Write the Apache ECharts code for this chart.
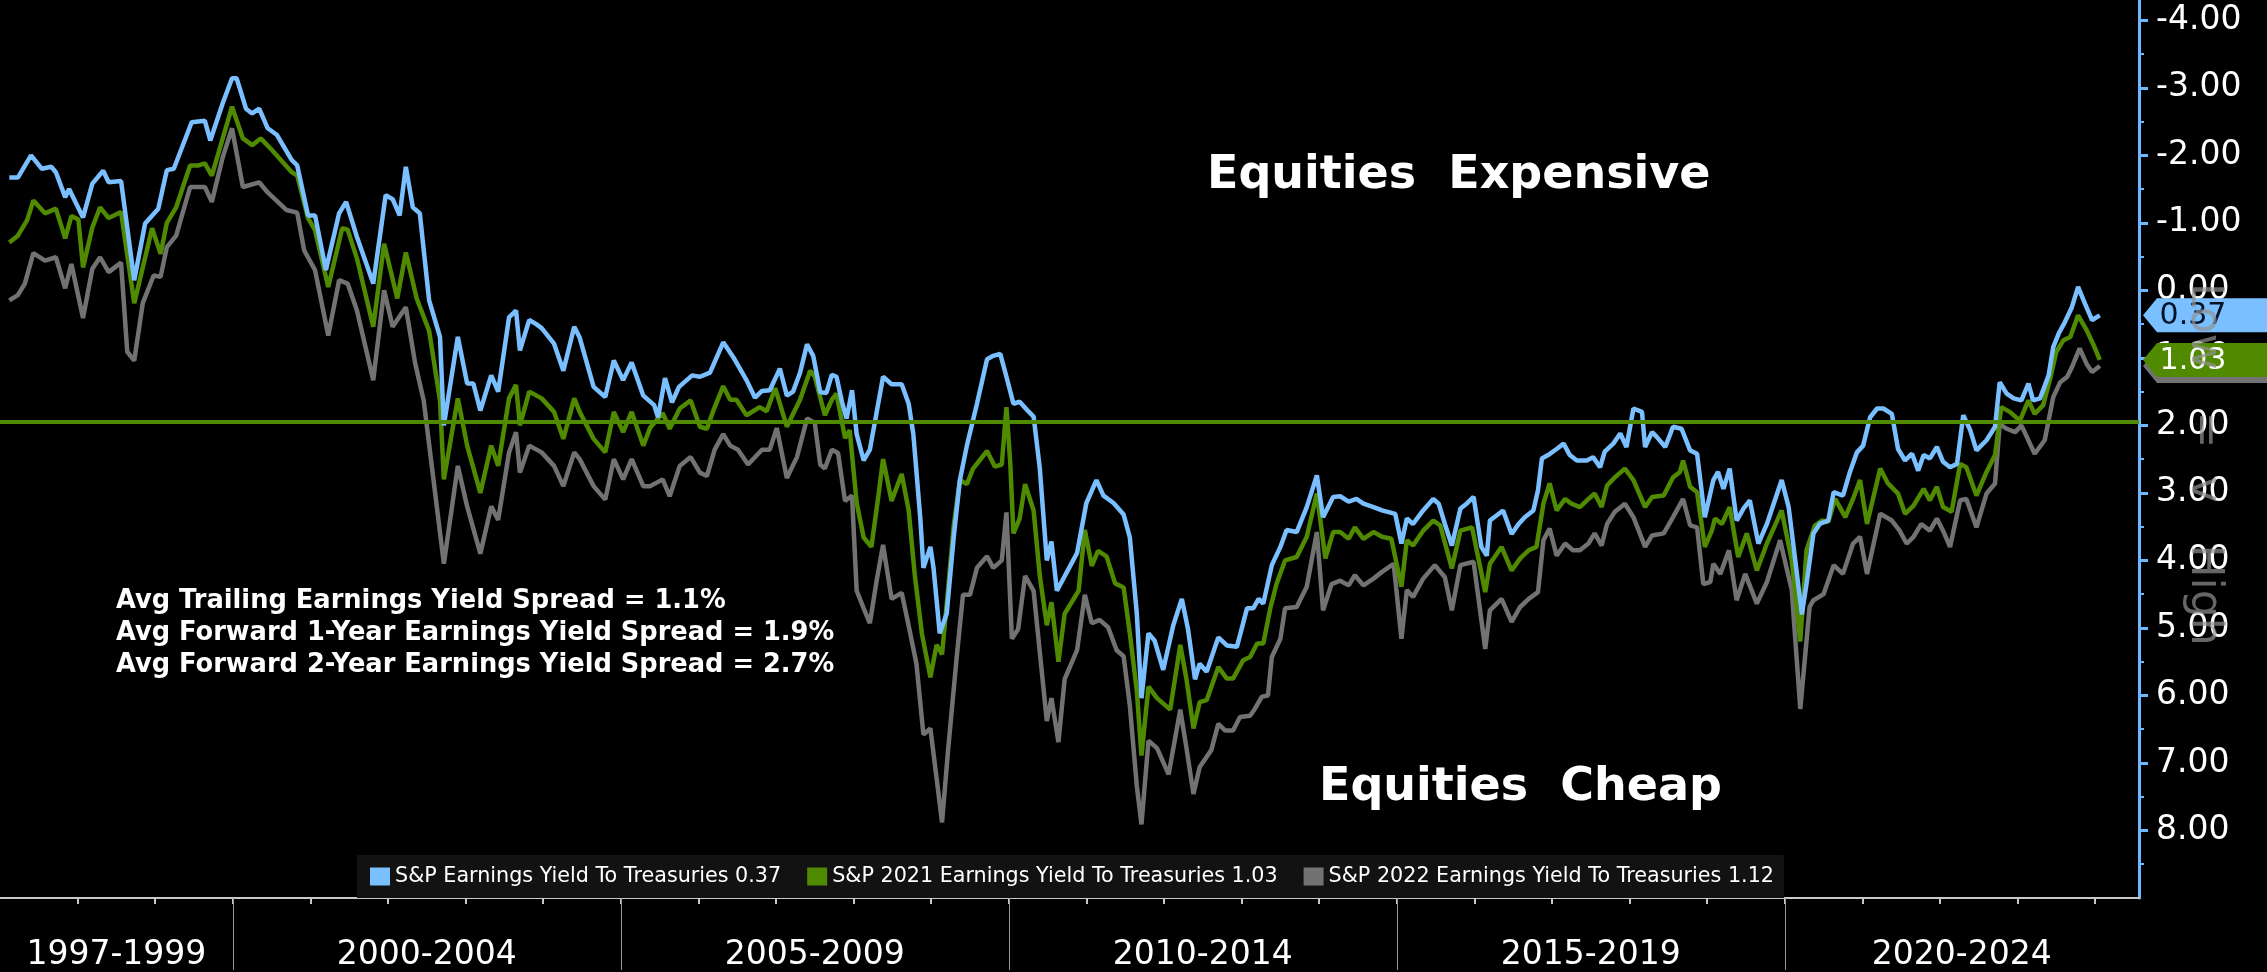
<!DOCTYPE html>
<html>
<head>
<meta charset="utf-8">
<script src="https://cdn.jsdelivr.net/npm/echarts@6/dist/echarts.min.js"></script>
<style>
  html, body { margin: 0; padding: 0; background: #000; }
  #chart { width: 2267px; height: 972px; }
</style>
</head>
<body>
<div id="chart"></div>
<script>
// x = fractional year, y = earnings yield minus treasury yield (axis drawn inverted)
const trailingYield = [
  [1997.12,-1.67],[1997.23,-1.67],[1997.40,-2.0],[1997.54,-1.8],[1997.66,-1.83],[1997.72,-1.75],[1997.84,-1.38],[1997.89,-1.5],
  [1998.07,-1.08],[1998.19,-1.58],[1998.33,-1.77],[1998.40,-1.6],[1998.56,-1.62],[1998.73,-0.15],[1998.87,-0.99],[1999.04,-1.21],
  [1999.15,-1.78],[1999.24,-1.8],[1999.47,-2.49],[1999.64,-2.51],[1999.71,-2.22],[1999.87,-2.77],[1999.99,-3.14],[2000.05,-3.14],
  [2000.17,-2.69],[2000.25,-2.62],[2000.34,-2.69],[2000.45,-2.4],[2000.57,-2.3],[2000.76,-1.93],[2000.83,-1.85],[2000.97,-1.11],
  [2001.06,-1.11],[2001.20,-0.3],[2001.37,-1.14],[2001.46,-1.31],[2001.60,-0.79],[2001.81,-0.1],[2001.97,-1.41],[2002.06,-1.35],
  [2002.15,-1.11],[2002.23,-1.83],[2002.32,-1.23],[2002.41,-1.14],[2002.53,0.15],[2002.67,0.69],[2002.72,2.0],[2002.90,0.69],
  [2003.02,1.38],[2003.10,1.38],[2003.19,1.78],[2003.33,1.26],[2003.42,1.5],[2003.56,0.4],[2003.65,0.3],[2003.70,0.89],
  [2003.82,0.44],[2003.91,0.5],[2003.98,0.56],[2004.14,0.79],[2004.26,1.19],[2004.40,0.54],[2004.47,0.7],[2004.65,1.43],
  [2004.80,1.58],[2004.91,1.04],[2005.03,1.33],[2005.14,1.07],[2005.29,1.56],[2005.43,1.7],[2005.48,1.88],[2005.57,1.3],
  [2005.66,1.66],[2005.75,1.43],[2005.92,1.26],[2006.02,1.28],[2006.15,1.22],[2006.32,0.77],[2006.45,0.99],[2006.62,1.33],
  [2006.73,1.59],[2006.82,1.49],[2006.92,1.48],[2007.05,1.16],[2007.14,1.56],[2007.22,1.5],[2007.31,1.22],[2007.40,0.8],
  [2007.48,0.97],[2007.57,1.51],[2007.65,1.52],[2007.72,1.25],[2007.78,1.28],[2007.85,1.65],[2007.91,1.9],[2007.98,1.48],
  [2008.04,2.13],[2008.13,2.52],[2008.21,2.36],[2008.30,1.79],[2008.38,1.28],[2008.49,1.39],[2008.62,1.39],[2008.71,1.68],
  [2008.77,2.13],[2008.86,3.38],[2008.90,4.11],[2008.99,3.8],[2009.03,4.11],[2009.11,5.08],[2009.20,4.79],[2009.29,3.66],
  [2009.37,2.81],[2009.46,2.3],[2009.59,1.68],[2009.72,1.02],[2009.80,0.97],[2009.89,0.94],[2009.97,1.28],[2010.06,1.68],
  [2010.14,1.65],[2010.25,1.79],[2010.32,1.87],[2010.40,2.64],[2010.49,4.0],[2010.55,3.72],[2010.62,4.45],[2010.75,4.17],
  [2010.88,3.89],[2011.00,3.15],[2011.13,2.81],[2011.22,3.04],[2011.35,3.15],[2011.48,3.32],[2011.56,3.66],[2011.65,4.79],
  [2011.71,6.04],[2011.80,5.08],[2011.88,5.19],[2011.99,5.62],[2012.12,4.96],[2012.23,4.57],[2012.31,5.02],[2012.40,5.76],
  [2012.46,5.53],[2012.55,5.65],[2012.70,5.14],[2012.81,5.26],[2012.94,5.28],[2013.07,4.71],[2013.15,4.71],[2013.22,4.57],
  [2013.28,4.64],[2013.39,4.07],[2013.50,3.8],[2013.58,3.55],[2013.71,3.58],[2013.84,3.21],[2013.97,2.74],[2014.05,3.36],
  [2014.18,3.06],[2014.27,3.05],[2014.38,3.13],[2014.48,3.09],[2014.57,3.16],[2014.70,3.21],[2014.81,3.26],[2014.98,3.31],
  [2015.06,3.75],[2015.13,3.38],[2015.21,3.46],[2015.34,3.26],[2015.47,3.09],[2015.54,3.16],[2015.62,3.46],[2015.71,3.78],
  [2015.82,3.23],[2015.90,3.16],[2015.99,3.06],[2016.09,3.8],[2016.16,3.93],[2016.20,3.41],[2016.29,3.33],[2016.37,3.26],
  [2016.48,3.61],[2016.57,3.46],[2016.65,3.36],[2016.76,3.26],[2016.82,2.96],[2016.87,2.49],[2016.95,2.44],[2017.06,2.35],
  [2017.15,2.27],[2017.23,2.44],[2017.32,2.52],[2017.45,2.52],[2017.53,2.47],[2017.62,2.62],[2017.68,2.39],[2017.79,2.27],
  [2017.88,2.12],[2017.96,2.32],[2018.05,1.75],[2018.16,1.8],[2018.20,2.32],[2018.29,2.1],[2018.35,2.17],[2018.46,2.32],
  [2018.56,2.02],[2018.67,2.05],[2018.78,2.37],[2018.87,2.42],[2018.97,3.36],[2019.08,2.81],[2019.14,2.69],[2019.21,2.94],
  [2019.29,2.64],[2019.38,3.41],[2019.47,3.23],[2019.55,3.11],[2019.66,3.75],[2019.77,3.46],[2019.96,2.81],[2020.05,3.21],
  [2020.13,3.95],[2020.22,4.8],[2020.28,4.35],[2020.37,3.6],[2020.45,3.46],[2020.56,3.41],[2020.63,2.99],[2020.75,3.04],
  [2020.84,2.69],[2020.93,2.4],[2021.01,2.3],[2021.10,1.88],[2021.19,1.75],[2021.27,1.75],[2021.38,1.83],[2021.46,2.35],
  [2021.55,2.52],[2021.64,2.42],[2021.72,2.67],[2021.79,2.44],[2021.87,2.49],[2021.96,2.32],[2022.04,2.54],[2022.13,2.62],
  [2022.22,2.57],[2022.30,1.85],[2022.39,2.07],[2022.47,2.37],[2022.60,2.22],[2022.71,2.02],[2022.77,1.36],[2022.86,1.53],
  [2022.95,1.6],[2023.05,1.63],[2023.14,1.38],[2023.20,1.63],[2023.29,1.6],[2023.40,1.26],[2023.46,0.84],[2023.53,0.64],
  [2023.61,0.47],[2023.70,0.25],[2023.78,-0.05],[2023.87,0.2],[2023.96,0.44],[2024.06,0.37]
];

const fwd1Yield = [
  [1997.12,-0.71],[1997.23,-0.81],[1997.35,-1.04],[1997.43,-1.33],[1997.58,-1.14],[1997.72,-1.21],[1997.84,-0.77],[1997.92,-1.1],
  [1998.01,-1.05],[1998.07,-0.34],[1998.19,-0.93],[1998.29,-1.23],[1998.40,-1.07],[1998.56,-1.16],[1998.73,0.19],[1998.84,-0.34],
  [1998.96,-0.92],[1999.07,-0.54],[1999.15,-1.0],[1999.27,-1.23],[1999.45,-1.85],[1999.56,-1.85],[1999.64,-1.88],[1999.73,-1.7],
  [1999.87,-2.25],[1999.99,-2.72],[2000.13,-2.25],[2000.25,-2.15],[2000.36,-2.25],[2000.51,-2.07],[2000.76,-1.75],[2000.83,-1.7],
  [2000.97,-1.07],[2001.06,-0.89],[2001.23,-0.05],[2001.41,-0.92],[2001.48,-0.9],[2001.60,-0.47],[2001.81,0.54],[2001.95,-0.69],
  [2002.12,0.12],[2002.23,-0.56],[2002.37,0.12],[2002.53,0.6],[2002.67,1.63],[2002.72,2.8],[2002.90,1.6],[2003.02,2.3],
  [2003.19,3.0],[2003.33,2.3],[2003.42,2.6],[2003.56,1.6],[2003.65,1.4],[2003.70,2.0],[2003.82,1.5],[2003.98,1.6],
  [2004.14,1.8],[2004.26,2.2],[2004.40,1.6],[2004.47,1.8],[2004.65,2.2],[2004.80,2.4],[2004.91,1.8],[2005.03,2.1],
  [2005.14,1.8],[2005.29,2.3],[2005.38,2.03],[2005.54,1.82],[2005.63,2.05],[2005.76,1.75],[2005.90,1.63],[2006.02,2.02],
  [2006.11,2.05],[2006.19,1.79],[2006.32,1.42],[2006.41,1.62],[2006.49,1.62],[2006.62,1.85],[2006.79,1.73],[2006.88,1.79],
  [2006.99,1.45],[2007.14,2.02],[2007.31,1.62],[2007.44,1.19],[2007.50,1.28],[2007.63,1.85],[2007.72,1.62],[2007.78,1.53],
  [2007.89,2.19],[2007.95,2.07],[2008.04,3.15],[2008.13,3.66],[2008.23,3.8],[2008.32,3.04],[2008.38,2.5],[2008.49,3.12],
  [2008.62,2.72],[2008.71,3.26],[2008.79,4.23],[2008.88,5.08],[2008.99,5.73],[2009.07,5.25],[2009.14,5.39],[2009.22,4.4],
  [2009.29,3.49],[2009.37,2.81],[2009.46,2.87],[2009.54,2.64],[2009.72,2.38],[2009.82,2.61],[2009.91,2.58],[2009.97,1.73],
  [2010.02,2.58],[2010.06,3.6],[2010.14,3.38],[2010.21,2.87],[2010.32,3.26],[2010.40,4.23],[2010.49,4.96],[2010.55,4.62],
  [2010.64,5.5],[2010.72,4.79],[2010.90,4.45],[2010.98,3.55],[2011.07,4.08],[2011.15,3.86],[2011.26,3.94],[2011.37,4.34],
  [2011.48,4.4],[2011.56,5.08],[2011.65,5.93],[2011.71,6.89],[2011.80,5.87],[2011.91,6.04],[2012.08,6.21],[2012.21,5.25],
  [2012.29,5.76],[2012.38,6.49],[2012.46,6.1],[2012.55,6.07],[2012.70,5.58],[2012.81,5.75],[2012.89,5.75],[2013.02,5.48],
  [2013.11,5.43],[2013.20,5.23],[2013.28,5.23],[2013.37,4.71],[2013.45,4.35],[2013.56,4.0],[2013.71,3.95],[2013.84,3.65],
  [2013.97,3.01],[2014.08,3.97],[2014.18,3.58],[2014.27,3.58],[2014.38,3.68],[2014.46,3.51],[2014.57,3.68],[2014.70,3.58],
  [2014.81,3.65],[2014.93,3.68],[2015.06,4.39],[2015.13,3.7],[2015.21,3.78],[2015.34,3.56],[2015.47,3.41],[2015.56,3.48],
  [2015.71,4.12],[2015.82,3.56],[2015.97,3.51],[2016.14,4.47],[2016.20,4.05],[2016.35,3.8],[2016.48,4.15],[2016.59,3.97],
  [2016.70,3.85],[2016.80,3.8],[2016.89,3.16],[2016.97,2.86],[2017.06,3.26],[2017.17,3.09],[2017.25,3.16],[2017.36,3.21],
  [2017.47,3.09],[2017.55,3.01],[2017.64,3.21],[2017.71,2.89],[2017.81,2.77],[2017.94,2.64],[2018.05,2.81],[2018.20,3.21],
  [2018.29,3.06],[2018.44,3.04],[2018.56,2.77],[2018.65,2.69],[2018.69,2.52],[2018.78,2.91],[2018.87,2.99],[2018.97,3.8],
  [2019.06,3.56],[2019.10,3.38],[2019.19,3.46],[2019.29,3.21],[2019.40,3.95],[2019.51,3.6],[2019.64,4.15],[2019.77,3.75],
  [2019.96,3.26],[2020.09,4.0],[2020.20,5.2],[2020.28,3.85],[2020.39,3.48],[2020.48,3.41],[2020.56,3.43],[2020.65,3.09],
  [2020.78,3.36],[2020.88,3.09],[2020.97,2.81],[2021.06,3.46],[2021.23,2.64],[2021.33,2.86],[2021.46,3.01],[2021.55,3.31],
  [2021.66,3.19],[2021.79,2.94],[2021.87,3.11],[2021.96,2.91],[2022.04,3.21],[2022.15,3.28],[2022.26,2.57],[2022.34,2.62],
  [2022.47,3.04],[2022.60,2.69],[2022.71,2.44],[2022.79,1.73],[2022.90,1.8],[2023.03,1.93],[2023.14,1.63],[2023.22,1.83],
  [2023.33,1.7],[2023.42,1.31],[2023.50,0.91],[2023.59,0.74],[2023.68,0.69],[2023.78,0.37],[2023.89,0.59],[2023.98,0.81],
  [2024.06,1.03]
];

const fwd2Yield = [
  [1997.12,0.15],[1997.23,0.07],[1997.32,-0.1],[1997.43,-0.55],[1997.58,-0.44],[1997.72,-0.49],[1997.84,-0.03],[1997.92,-0.39],
  [1998.07,0.41],[1998.19,-0.32],[1998.29,-0.49],[1998.40,-0.27],[1998.56,-0.41],[1998.64,0.91],[1998.73,1.04],[1998.84,0.19],
  [1998.98,-0.22],[1999.07,-0.2],[1999.15,-0.64],[1999.27,-0.81],[1999.45,-1.53],[1999.64,-1.53],[1999.73,-1.31],[1999.87,-1.97],
  [1999.99,-2.4],[2000.13,-1.53],[2000.34,-1.6],[2000.45,-1.45],[2000.69,-1.19],[2000.83,-1.15],[2000.92,-0.59],[2001.06,-0.3],
  [2001.23,0.67],[2001.37,-0.15],[2001.48,-0.1],[2001.60,0.3],[2001.81,1.33],[2001.95,0.0],[2002.06,0.54],[2002.23,0.25],
  [2002.35,1.08],[2002.46,1.63],[2002.72,4.05],[2002.90,2.6],[2003.02,3.2],[2003.19,3.9],[2003.33,3.2],[2003.42,3.4],
  [2003.56,2.4],[2003.65,2.1],[2003.70,2.7],[2003.82,2.3],[2003.98,2.4],[2004.14,2.6],[2004.26,2.9],[2004.40,2.4],
  [2004.47,2.5],[2004.65,2.9],[2004.80,3.1],[2004.91,2.5],[2005.03,2.8],[2005.14,2.5],[2005.29,2.9],[2005.38,2.9],
  [2005.54,2.8],[2005.63,3.05],[2005.76,2.6],[2005.90,2.47],[2006.02,2.7],[2006.11,2.75],[2006.21,2.36],[2006.32,2.13],
  [2006.41,2.3],[2006.51,2.36],[2006.64,2.58],[2006.82,2.36],[2006.92,2.36],[2007.01,2.04],[2007.14,2.78],[2007.27,2.47],
  [2007.40,1.9],[2007.50,1.96],[2007.57,2.58],[2007.63,2.64],[2007.72,2.36],[2007.80,2.41],[2007.89,3.12],[2007.98,3.04],
  [2008.04,4.45],[2008.13,4.71],[2008.21,4.93],[2008.30,4.28],[2008.38,3.77],[2008.49,4.57],[2008.62,4.48],[2008.73,5.08],
  [2008.81,5.53],[2008.90,6.58],[2008.99,6.49],[2009.07,7.23],[2009.14,7.88],[2009.22,6.78],[2009.33,5.42],[2009.41,4.51],
  [2009.50,4.51],[2009.59,4.11],[2009.72,3.94],[2009.80,4.11],[2009.91,4.0],[2009.97,3.29],[2010.04,5.16],[2010.12,5.02],
  [2010.21,4.23],[2010.32,4.45],[2010.40,5.36],[2010.49,6.38],[2010.55,6.04],[2010.64,6.69],[2010.72,5.76],[2010.88,5.33],
  [2010.98,4.51],[2011.07,4.93],[2011.17,4.88],[2011.28,4.99],[2011.39,5.33],[2011.48,5.42],[2011.56,6.15],[2011.65,7.34],
  [2011.71,7.91],[2011.80,6.67],[2011.91,6.78],[2012.06,7.17],[2012.21,6.21],[2012.29,6.78],[2012.38,7.46],[2012.46,7.06],
  [2012.61,6.81],[2012.70,6.42],[2012.79,6.52],[2012.89,6.52],[2012.98,6.32],[2013.11,6.3],[2013.17,6.2],[2013.26,6.02],
  [2013.34,6.0],[2013.39,5.43],[2013.50,5.16],[2013.56,4.71],[2013.71,4.69],[2013.84,4.39],[2013.97,3.58],[2014.05,4.74],
  [2014.16,4.35],[2014.27,4.3],[2014.38,4.37],[2014.46,4.22],[2014.57,4.37],[2014.70,4.27],[2014.81,4.17],[2014.96,4.05],
  [2015.06,5.16],[2015.13,4.44],[2015.21,4.54],[2015.34,4.27],[2015.49,4.07],[2015.62,4.25],[2015.71,4.74],[2015.82,4.07],
  [2015.99,4.02],[2016.14,5.31],[2016.20,4.74],[2016.35,4.57],[2016.48,4.91],[2016.59,4.69],[2016.70,4.57],[2016.82,4.47],
  [2016.89,3.7],[2016.97,3.53],[2017.06,3.93],[2017.17,3.75],[2017.27,3.85],[2017.36,3.85],[2017.47,3.75],[2017.55,3.6],
  [2017.64,3.78],[2017.71,3.46],[2017.81,3.28],[2017.94,3.16],[2018.05,3.36],[2018.20,3.8],[2018.29,3.63],[2018.44,3.6],
  [2018.56,3.36],[2018.69,3.09],[2018.78,3.48],[2018.87,3.51],[2018.95,4.35],[2019.04,4.32],[2019.08,4.05],[2019.17,4.2],
  [2019.28,3.85],[2019.38,4.59],[2019.49,4.2],[2019.64,4.64],[2019.77,4.32],[2019.94,3.7],[2020.09,4.44],[2020.20,6.2],
  [2020.32,4.69],[2020.37,4.59],[2020.50,4.5],[2020.63,4.07],[2020.75,4.2],[2020.88,3.75],[2020.97,3.65],[2021.06,4.2],
  [2021.23,3.31],[2021.38,3.41],[2021.48,3.56],[2021.57,3.75],[2021.66,3.65],[2021.76,3.46],[2021.87,3.56],[2021.96,3.38],
  [2022.04,3.56],[2022.13,3.8],[2022.26,3.11],[2022.34,3.09],[2022.47,3.51],[2022.60,3.01],[2022.71,2.86],[2022.77,1.98],
  [2022.86,2.05],[2022.97,2.1],[2023.05,2.0],[2023.22,2.42],[2023.35,2.22],[2023.46,1.58],[2023.55,1.36],[2023.64,1.28],
  [2023.70,1.14],[2023.80,0.86],[2023.89,1.09],[2023.96,1.21],[2024.06,1.12]
];

const seriesNames = [
  'S&P Earnings Yield To Treasuries',
  'S&P 2021 Earnings Yield To Treasuries',
  'S&P 2022 Earnings Yield To Treasuries'
];
const avgFwd1Line = 1.94;
const avgSpreads = [
  ['Avg Trailing Earnings Yield Spread', 1.1],
  ['Avg Forward 1-Year Earnings Yield Spread', 1.9],
  ['Avg Forward 2-Year Earnings Yield Spread', 2.7]
];
const periodLabels = ['1997-1999', '2000-2004', '2005-2009', '2010-2014', '2015-2019', '2020-2024'];
const periodCenters = [1998.5, 2002.5, 2007.5, 2012.5, 2017.5, 2022.28];
const periodBreaks = [2000, 2005, 2010, 2015, 2020];
const yearTicks = [];
for (let y = 1998; y <= 2024; y++) yearTicks.push(y);
const yMajor = [], yMinor = [];
for (let v = -4; v <= 8; v++) { yMajor.push(v); yMinor.push(v + 0.5); }
const xMin = 1997, xMax = 2024.565;
const yMin = -4.3, yMax = 9;

const BLUE = '#7abfff', GREEN = '#4f8a00', GRAY = '#727272', AXIS_BLUE = '#6eb6ff';
const FONT = 'DejaVu Sans';

function last(arr) { return arr[arr.length - 1][1]; }

function lineSeries(name, data, color, tagText, showTagLabel) {
  return {
    name: name,
    type: 'line',
    data: data,
    showSymbol: false,
    symbol: 'none',
    lineStyle: { color: color, width: 4.5 },
    itemStyle: { color: color },
    markPoint: {
      silent: true,
      symbol: 'path://M0,17 L14,0 L124,0 L124,34 L14,34 Z',
      symbolSize: [124, 34],
      symbolOffset: [66, 0],
      itemStyle: { color: color },
      label: {
        show: showTagLabel,
        position: 'inside',
        offset: [-12, 1],
        color: tagText,
        fontSize: 30,
        fontFamily: FONT,
        formatter: p => p.value.toFixed(2)
      },
      data: [{ coord: [xMax, last(data)], value: last(data) }]
    }
  };
}

const chart = echarts.init(document.getElementById('chart'));

const grayS = lineSeries(seriesNames[2], fwd2Yield, GRAY, '#fff', false);
const greenS = lineSeries(seriesNames[1], fwd1Yield, GREEN, '#fff', true);
const blueS = lineSeries(seriesNames[0], trailingYield, BLUE, '#06122a', true);
blueS.markLine = {
  silent: true,
  symbol: 'none',
  label: { show: false },
  lineStyle: { color: GREEN, width: 4, type: 'solid' },
  data: [{ yAxis: avgFwd1Line }]
};

const lastByName = {};
lastByName[seriesNames[0]] = last(trailingYield);
lastByName[seriesNames[1]] = last(fwd1Yield);
lastByName[seriesNames[2]] = last(fwd2Yield);

chart.setOption({
  backgroundColor: '#000',
  animation: false,
  grid: { left: 0, right: 128, top: 0, bottom: 72 },
  legend: {
    data: seriesNames,
    left: 357,
    top: 855,
    backgroundColor: '#121212',
    padding: [11, 10, 11, 13],
    itemGap: 26,
    itemWidth: 20,
    itemHeight: 18,
    icon: 'rect',
    textStyle: { color: '#fff', fontSize: 20.7, fontFamily: FONT },
    formatter: name => name + ' ' + lastByName[name].toFixed(2)
  },
  xAxis: [
    {
      type: 'value',
      min: xMin,
      max: xMax,
      axisLine: { onZero: false, lineStyle: { color: '#c8c8c8', width: 2 } },
      axisTick: { customValues: yearTicks, length: 6, lineStyle: { color: '#c8c8c8', width: 2 } },
      axisLabel: {
        customValues: periodCenters,
        formatter: v => periodLabels[periodCenters.indexOf(v)],
        color: '#fff',
        fontSize: 33,
        fontFamily: FONT,
        margin: 41
      },
      splitLine: { show: false }
    },
    {
      type: 'value',
      min: xMin,
      max: xMax,
      position: 'bottom',
      axisLine: { show: false, onZero: false },
      axisTick: { customValues: periodBreaks, length: 72, lineStyle: { color: '#9a9a9a', width: 1 } },
      axisLabel: { show: false },
      splitLine: { show: false }
    }
  ],
  yAxis: [
    {
      type: 'value',
      position: 'right',
      inverse: true,
      min: yMin,
      max: yMax,
      axisLine: { show: true, onZero: false, lineStyle: { color: AXIS_BLUE, width: 3 } },
      axisTick: { show: true, customValues: yMajor, length: 9, lineStyle: { color: AXIS_BLUE, width: 3 } },
      axisLabel: {
        customValues: yMajor,
        color: '#fff',
        fontSize: 33,
        fontFamily: FONT,
        margin: 17,
        formatter: v => v.toFixed(2)
      },
      splitLine: { show: false }
    },
    {
      type: 'value',
      position: 'right',
      inverse: true,
      min: yMin,
      max: yMax,
      axisLine: { show: false, onZero: false },
      axisTick: { show: true, customValues: yMinor, length: 5, lineStyle: { color: AXIS_BLUE, width: 2 } },
      axisLabel: { show: false },
      splitLine: { show: false }
    }
  ],
  graphic: [
    {
      type: 'text', left: 1207, top: 153, silent: true,
      style: { text: 'Equities  Expensive', fill: '#fff', font: 'bold 46px "DejaVu Sans"' }
    },
    {
      type: 'text', left: 1319, top: 765, silent: true,
      style: { text: 'Equities  Cheap', fill: '#fff', font: 'bold 46px "DejaVu Sans"' }
    },
    {
      type: 'text', left: 116, top: 585, silent: true,
      style: {
        text: avgSpreads.map(a => a[0] + ' = ' + a[1].toFixed(1) + '%').join('\n'),
        fill: '#fff', font: 'bold 25.7px "DejaVu Sans"', lineHeight: 32
      }
    },
    {
      type: 'text', x: 2203, y: 283, rotation: -Math.PI / 2, silent: true, z: 100,
      style: {
        text: 'Low   =  v   High',
        fill: 'rgba(145,145,145,0.7)', font: '44px "DejaVu Sans"',
        textAlign: 'left', textVerticalAlign: 'middle'
      }
    }
  ],
  series: [grayS, greenS, blueS]
});
</script>
</body>
</html>
